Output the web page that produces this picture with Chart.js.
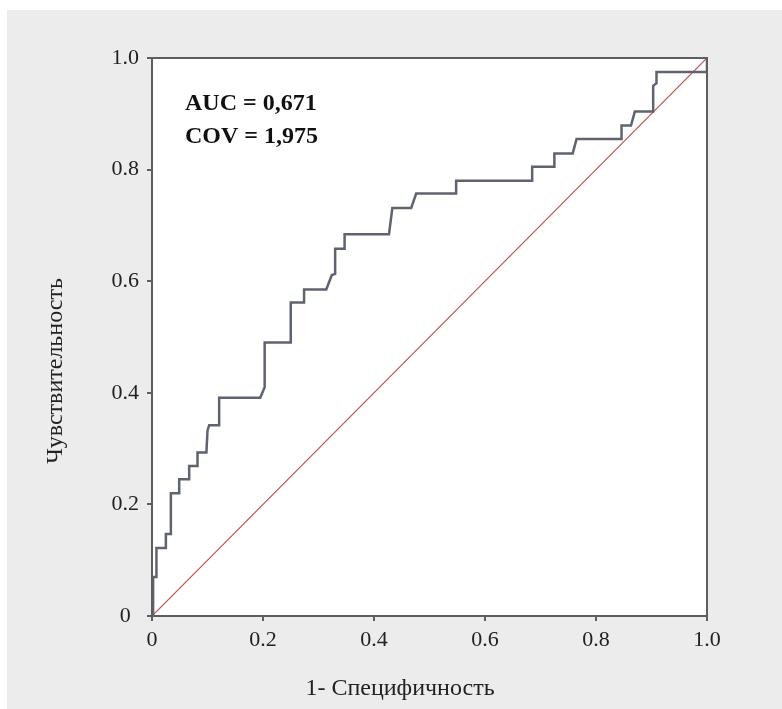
<!DOCTYPE html>
<html>
<head>
<meta charset="utf-8">
<script src="https://cdn.jsdelivr.net/npm/chart.js@4/dist/chart.umd.min.js"></script>
<style>
  html, body { margin: 0; padding: 0; background: #fff; }
  canvas { display: block; }
</style>
</head>
<body>
<canvas id="rocChart" width="782" height="709"></canvas>
<script>
// ROC curve: 1-specificity vs sensitivity
const fpr = [0, 0.002, 0.002, 0.008, 0.008, 0.025, 0.025, 0.034, 0.034, 0.049, 0.049, 0.067, 0.067, 0.082, 0.082,
  0.098, 0.100, 0.103, 0.121, 0.121, 0.195, 0.203, 0.203, 0.250, 0.250, 0.274, 0.274, 0.314, 0.324, 0.330, 0.330,
  0.347, 0.347, 0.427, 0.433, 0.467, 0.476, 0.548, 0.548, 0.685, 0.685, 0.725, 0.725, 0.758, 0.765, 0.846, 0.846,
  0.863, 0.870, 0.903, 0.903, 0.909, 0.909, 1.0, 1.0];
const tpr = [0, 0, 0.07, 0.07, 0.122, 0.122, 0.147, 0.147, 0.22, 0.22, 0.245, 0.245, 0.269, 0.269, 0.293,
  0.293, 0.332, 0.342, 0.342, 0.391, 0.391, 0.41, 0.49, 0.49, 0.562, 0.562, 0.585, 0.585, 0.611, 0.613, 0.658,
  0.658, 0.684, 0.684, 0.731, 0.731, 0.757, 0.757, 0.78, 0.78, 0.805, 0.805, 0.829, 0.829, 0.855, 0.855, 0.879,
  0.879, 0.904, 0.904, 0.95, 0.955, 0.975, 0.975, 1.0];
const diagX = [0, 1];
const diagY = [0, 1];
const tickValues = [0, 0.2, 0.4, 0.6, 0.8, 1.0];
const tickLabels = ['0', '0.2', '0.4', '0.6', '0.8', '1.0'];
const statsText = ['AUC = 0,671', 'COV = 1,975'];
const xTitle = '1- Специфичность';
const yTitle = 'Чувствительность';

const SERIF = '"Liberation Serif", "DejaVu Serif", serif';

const toPoints = (xs, ys) => xs.map((x, i) => ({ x, y: ys[i] }));

const frame = {
  id: 'frame',
  beforeDraw(chart) {
    const { ctx, chartArea: a, width, height } = chart;
    ctx.save();
    ctx.fillStyle = '#fff';
    ctx.fillRect(0, 0, width, height);
    ctx.fillStyle = '#ececec';
    ctx.fillRect(7, 10, width - 7, height - 10);
    ctx.fillStyle = '#fff';
    ctx.fillRect(a.left, a.top, a.right - a.left, a.bottom - a.top);
    ctx.restore();
  },
  afterDraw(chart) {
    const { ctx, chartArea: a } = chart;
    ctx.save();
    ctx.strokeStyle = '#5e5e5e';
    ctx.lineWidth = 2;
    ctx.strokeRect(a.left, a.top, a.right - a.left, a.bottom - a.top);

    ctx.fillStyle = '#111';
    ctx.font = 'bold 24px ' + SERIF;
    ctx.textBaseline = 'middle';
    ctx.textAlign = 'left';
    statsText.forEach((t, i) => ctx.fillText(t, 185, 104 + i * 33));

    ctx.fillStyle = '#222';
    ctx.font = '24px ' + SERIF;
    ctx.textAlign = 'center';
    ctx.fillText(xTitle, 400, 689);

    ctx.translate(56, 371);
    ctx.rotate(-Math.PI / 2);
    ctx.fillText(yTitle, 0, 0);
    ctx.restore();
  }
};

const axisCommon = {
  type: 'linear',
  min: 0,
  max: 1,
  afterBuildTicks: scale => { scale.ticks = tickValues.map(v => ({ value: v })); },
  grid: { display: true, drawOnChartArea: false, drawTicks: true, tickLength: 5, color: '#5e5e5e', lineWidth: 2 },
  border: { display: true, color: '#5e5e5e', width: 2 },
  ticks: {
    color: '#222',
    font: { family: SERIF, size: 22 },
    callback: v => tickLabels[tickValues.indexOf(v)]
  }
};

new Chart(document.getElementById('rocChart'), {
  type: 'line',
  data: {
    datasets: [
      {
        data: toPoints(fpr, tpr),
        borderColor: '#5f6370',
        borderWidth: 2.5,
        pointRadius: 0,
        tension: 0,
        fill: false
      },
      {
        data: toPoints(diagX, diagY),
        borderColor: '#c0504d',
        borderWidth: 1.2,
        pointRadius: 0,
        tension: 0,
        fill: false
      }
    ]
  },
  options: {
    responsive: false,
    animation: false,
    devicePixelRatio: 1,
    layout: { padding: { top: 58, right: 75, left: 0, bottom: 0 } },
    plugins: { legend: { display: false }, tooltip: { enabled: false } },
    scales: {
      x: {
        ...axisCommon,
        afterFit: scale => { scale.height = 93; },
        ticks: { ...axisCommon.ticks, padding: 6, maxRotation: 0 }
      },
      y: {
        ...axisCommon,
        afterFit: scale => { scale.width = 152; },
        ticks: { ...axisCommon.ticks, padding: 8, crossAlign: 'center' }
      }
    }
  },
  plugins: [frame]
});
</script>
</body>
</html>
